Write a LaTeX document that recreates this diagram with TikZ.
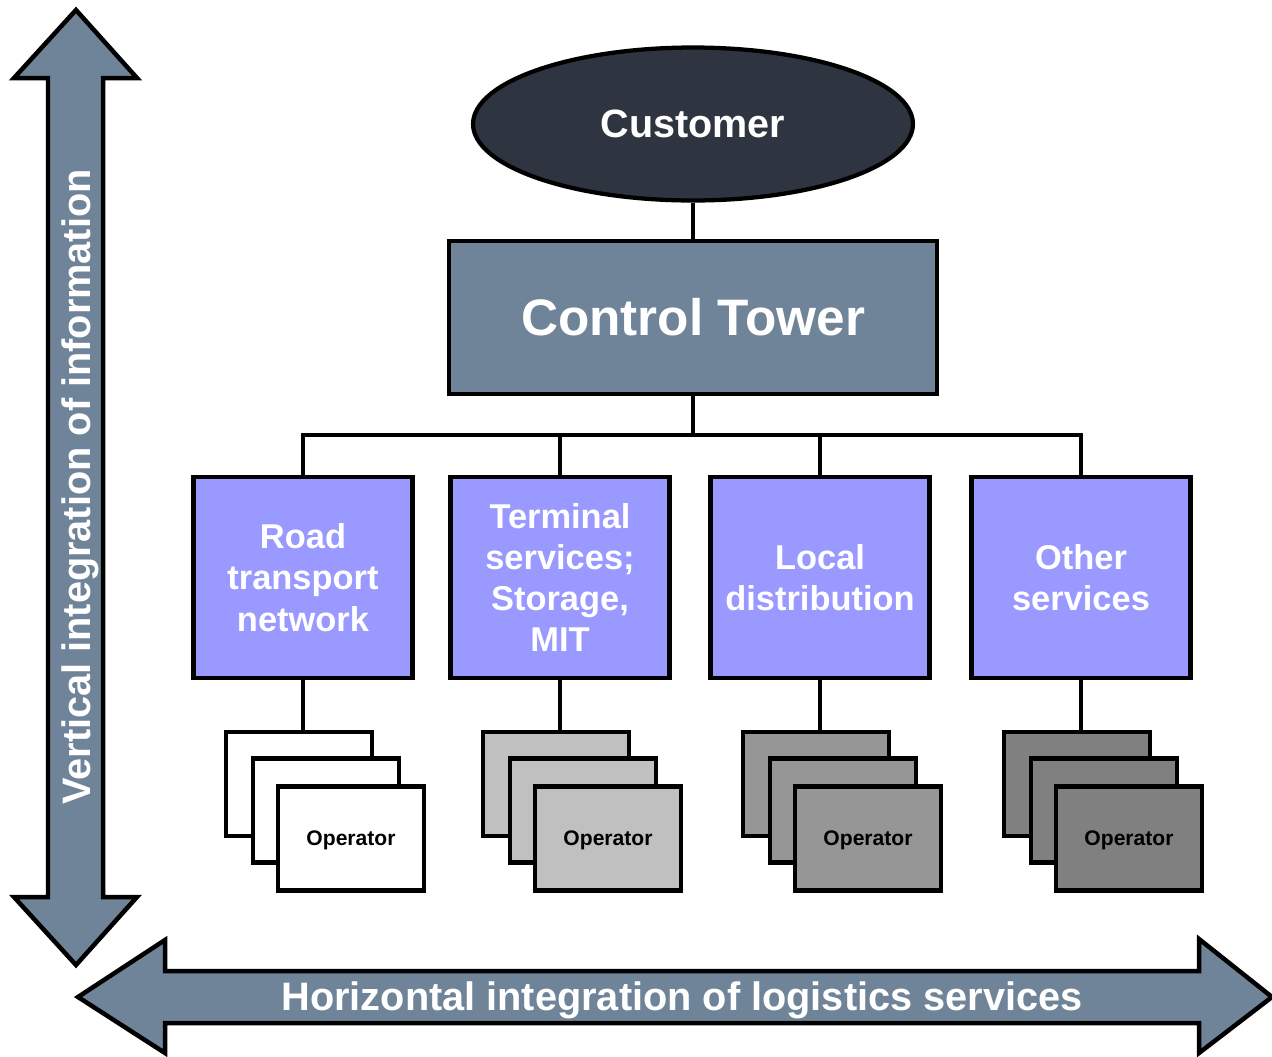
\documentclass[tikz,border=0pt]{standalone}
\usepackage{xcolor}
\usepackage{fontspec}
\setmainfont{Liberation Sans}
\usepackage{tikz}
\usetikzlibrary{positioning,shapes.geometric}
\definecolor{custfill}{HTML}{2E3440}
\definecolor{towerfill}{HTML}{708499}
\definecolor{svcfill}{HTML}{9999FF}
\definecolor{opgrayA}{HTML}{C0C0C0}
\definecolor{opgrayB}{HTML}{969696}
\definecolor{opgrayC}{HTML}{808080}
\tikzstyle{bigarrow}=[draw=black, line width=0.09cm, fill=towerfill, line join=miter]
\tikzstyle{arrowtext}=[text=white, font=\bfseries\fontsize{22.6}{27}\selectfont]
\tikzstyle{customer}=[ellipse, draw=black, line width=0.085cm, fill=custfill,
        minimum width=8.8cm, minimum height=3.06cm, text=white,
        font=\bfseries\fontsize{22.5}{27}\selectfont]
\tikzstyle{tower}=[rectangle, draw=black, line width=0.085cm, fill=towerfill,
        minimum width=9.76cm, minimum height=3.06cm, text=white,
        font=\bfseries\fontsize{29.2}{35}\selectfont]
\tikzstyle{service}=[rectangle, draw=black, line width=0.085cm, fill=svcfill,
        minimum width=4.38cm, minimum height=4.02cm, text=white, align=center,
        font=\bfseries\fontsize{19.6}{23.5}\selectfont]
\tikzstyle{operator}=[rectangle, draw=black, line width=0.085cm,
        minimum width=2.92cm, minimum height=2.08cm,
        font=\bfseries\fontsize{12}{14}\selectfont]
\tikzstyle{link}=[draw=black, line width=0.085cm]

\begin{document}
\begin{tikzpicture}[x=0.02cm, y=-0.02cm]
      \useasboundingbox (0,0) rectangle (1272,1056);
      % integration arrows
      \draw[bigarrow] (76,10) -- (137,78) -- (103,78) -- (103,897) -- (137,897) -- (76,965)
        -- (14,897) -- (48,897) -- (48,78) -- (14,78) -- cycle;
      \draw[bigarrow] (78,997) -- (165,940) -- (165,971) -- (1199,971) -- (1199,939) -- (1272,997)
        -- (1199,1053) -- (1199,1023) -- (165,1023) -- (165,1053) -- cycle;
      \node (Vertical) [arrowtext, rotate=90] at (80,487) {Vertical integration of information};
      \node (Horizontal) [arrowtext] at (682,1000) {Horizontal integration of logistics services};

      \node (Customer) [customer] at (693,124) {Customer};
      \node (Tower) [tower] at (693,317.5) {Control Tower};

      \node (Road) [service] at (303,577.5) {Road\\transport\\network};
      \node (Terminal) [service] at (560,577.5) {Terminal\\services;\\Storage,\\MIT};
      \node (Local) [service] at (820,577.5) {Local\\distribution};
      \node (Other) [service] at (1081,577.5) {Other\\services};

      \coordinate (Bus) at (693,435);
      \draw[link] (Customer) -- (Tower);
      \draw[link] (Tower.south) -- (Bus);
      \draw[link] (Road.north) |- (Bus) -| (Other.north);
      \draw[link] (Terminal.north) -- (Terminal.north |- Bus);
      \draw[link] (Local.north) -- (Local.north |- Bus);

      % operator stacks
      \foreach \s/\cx/\col in {Road/303/white, Terminal/560/opgrayA, Local/820/opgrayB, Other/1081/opgrayC}
      {
        \node (\s-a) [operator, fill=\col] at ({\cx-4},784) {};
        \node (\s-b) [operator, fill=\col] at ({\cx+23},810.5) {};
        \node (\s-c) [operator, fill=\col, text depth=-2pt] at ({\cx+48},838.5) {Operator};
        \draw[link] (\s.south) -- (\s.south |- \s-a.north);
      }
\end{tikzpicture}
\end{document}
